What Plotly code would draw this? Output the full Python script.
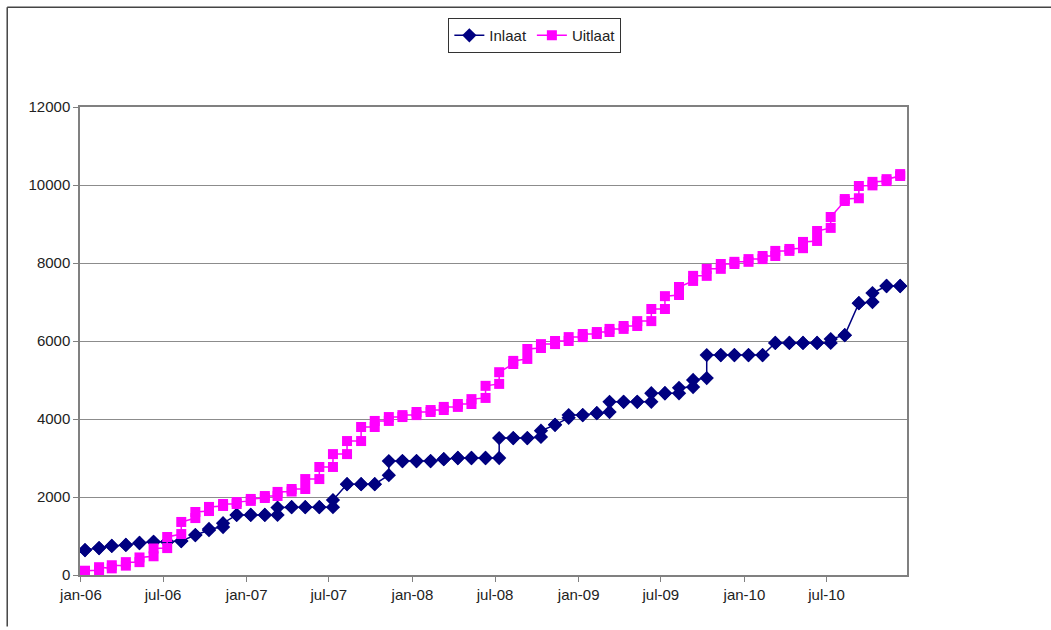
import pandas as pd
import plotly.graph_objects as go

# Monthly readings (two per month: first and second reading), cumulative totals
months = pd.date_range("2006-01-01", "2010-12-01", freq="MS")

inlaat_first = [640, 690, 745, 770, 820, 850, 850, 870, 1025, 1150,
                1230, 1540, 1540, 1540, 1540, 1740, 1740, 1740, 1740, 2330,
                2330, 2330, 2560, 2920, 2920, 2920, 2970, 3000, 3000, 3000,
                3000, 3510, 3510, 3540, 3850, 4030, 4100, 4150, 4180, 4440,
                4440, 4440, 4660, 4660, 4820, 5050, 5640, 5640, 5640, 5640,
                5950, 5950, 5950, 5950, 5950, 6150, 6970, 7000, 7410, 7410]
inlaat_second = [640, 690, 745, 770, 820, 850, 850, 870, 1025, 1180,
                 1330, 1540, 1540, 1540, 1730, 1740, 1740, 1740, 1920, 2330,
                 2330, 2330, 2920, 2920, 2920, 2920, 2970, 3000, 3000, 3000,
                 3510, 3510, 3510, 3700, 3850, 4100, 4100, 4150, 4440, 4440,
                 4440, 4660, 4660, 4800, 5000, 5640, 5640, 5640, 5640, 5640,
                 5950, 5950, 5950, 5950, 6050, 6150, 6970, 7230, 7410, 7410]

uitlaat_first = [40, 120, 170, 240, 330, 480, 690, 1050, 1460, 1640,
                 1770, 1820, 1900, 1975, 2025, 2140, 2205, 2460, 2770, 3100,
                 3435, 3795, 3950, 4050, 4100, 4180, 4230, 4310, 4385, 4540,
                 4900, 5410, 5540, 5820, 5920, 6000, 6100, 6180, 6230, 6310,
                 6385, 6510, 6820, 7180, 7540, 7670, 7850, 7975, 8030, 8100,
                 8180, 8310, 8380, 8565, 8900, 9590, 9660, 9990, 10100, 10230]
uitlaat_second = [110, 200, 250, 330, 450, 680, 975, 1360, 1615, 1745,
                  1820, 1870, 1950, 2025, 2130, 2205, 2460, 2770, 3100, 3435,
                  3795, 3950, 4050, 4100, 4180, 4230, 4310, 4385, 4510, 4850,
                  5200, 5490, 5795, 5920, 6000, 6100, 6180, 6230, 6310, 6385,
                  6510, 6820, 7150, 7385, 7670, 7850, 7975, 8030, 8100, 8180,
                  8310, 8360, 8540, 8820, 9180, 9640, 9975, 10080, 10150, 10280]

tick_dates = pd.date_range("2006-01-01", "2010-07-01", freq="6MS")
tick_labels = ["jan-06", "jul-06", "jan-07", "jul-07", "jan-08", "jul-08",
               "jan-09", "jul-09", "jan-10", "jul-10"]

y_ticks = [0, 2000, 4000, 6000, 8000, 10000, 12000]

# both readings of a month share the same date position
point_dates = months + pd.Timedelta(days=9)
x_pairs = [d for d in point_dates for _ in range(2)]


def interleave(a, b):
    out = []
    for p, q in zip(a, b):
        out += [p, q]
    return out


FONT = "Liberation Sans, Arial, sans-serif"

fig = go.Figure()
fig.add_trace(go.Scatter(
    x=x_pairs, y=interleave(inlaat_first, inlaat_second), name="Inlaat",
    mode="lines+markers",
    line=dict(color="#000080", width=1.5),
    marker=dict(symbol="diamond", size=11, color="#000080"),
))
fig.add_trace(go.Scatter(
    x=x_pairs, y=interleave(uitlaat_first, uitlaat_second), name="Uitlaat",
    mode="lines+markers",
    line=dict(color="#FF00FF", width=1.5),
    marker=dict(symbol="square", size=10, color="#FF00FF"),
))

fig.update_layout(
    width=1051, height=630,
    margin=dict(l=80, r=144, t=107, b=55),
    paper_bgcolor="white", plot_bgcolor="white",
    font=dict(family=FONT, size=15, color="#222222"),
    hovermode=False,
    showlegend=True,
    legend=dict(
        orientation="h", x=0.55, xanchor="center", y=1.19, yanchor="top",
        bordercolor="#333333", borderwidth=1, bgcolor="white",
        font=dict(family=FONT, size=15, color="#222222"),
        itemwidth=30, tracegroupgap=0,
    ),
    xaxis=dict(
        type="date",
        range=["2005-12-30", "2010-12-25"],
        tickvals=list(tick_dates), ticktext=tick_labels,
        showgrid=False, zeroline=False,
        showline=True, linecolor="#808080", linewidth=1.5, mirror=True,
        ticks="outside", ticklen=5, tickcolor="#808080",
        tickfont=dict(family=FONT, size=15, color="#222222"),
    ),
    yaxis=dict(
        range=[0, 12000],
        tickvals=y_ticks, ticktext=[str(v) for v in y_ticks],
        showgrid=True, gridcolor="#8c8c8c", gridwidth=1.2,
        zeroline=False,
        showline=True, linecolor="#808080", linewidth=1.5, mirror=True,
        ticks="outside", ticklen=5, tickcolor="#808080",
        tickfont=dict(family=FONT, size=15, color="#222222"),
    ),
)

# outer chart-area frame along the top and left edges
fig.add_shape(type="line", xref="paper", yref="paper",
              x0=-0.088, x1=1.2, y0=1.213, y1=1.213,
              line=dict(color="#444444", width=1.5))
fig.add_shape(type="line", xref="paper", yref="paper",
              x0=-0.088, x1=-0.088, y0=1.213, y1=-0.11,
              line=dict(color="#444444", width=1.5))

fig.write_html("out.html")
